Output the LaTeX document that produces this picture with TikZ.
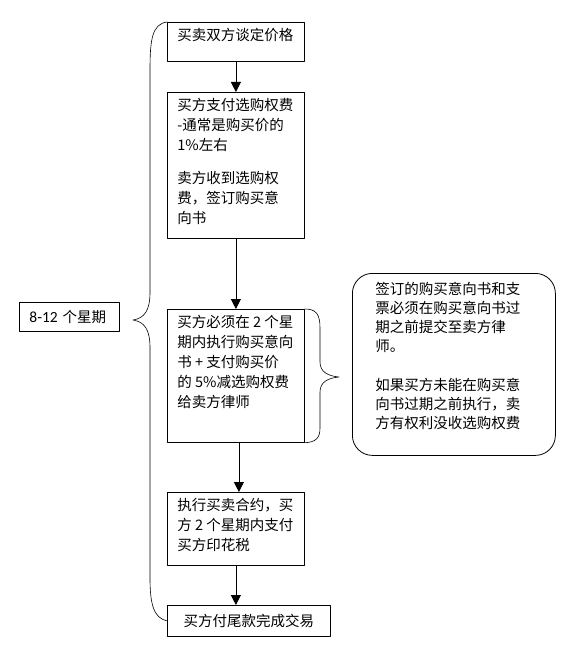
\documentclass[tikz,border=0pt]{standalone}
\usepackage{fontspec}
\setmainfont{Noto Sans CJK SC}
\newfontfamily\latinsans{Carlito}
\usetikzlibrary{arrows.meta}

% hộp chữ canh trên: rộng, cao, nội dung
\newcommand{\khung}[3]{\parbox[c][#2][t]{#1}{\raggedright #3}}

\begin{document}
\begin{tikzpicture}[x=1pt, y=-1pt, line join=round, line cap=round,
    font=\fontsize{14.5}{20}\selectfont,
    box/.style={draw, line width=0.8pt, anchor=north west, inner xsep=10pt, inner ysep=6pt},
    note/.style={draw, line width=0.8pt, anchor=north west, rounded corners=20pt, inner xsep=23pt, inner ysep=9pt},
    flow/.style={-{Triangle[width=10pt,length=10pt]}, line width=0.8pt}]
    \useasboundingbox (0,0) rectangle (560,666);

    % Các bước
    \node[box] (price) at (167,22) {\khung{117pt}{27pt}{买卖双方谈定价格}};
    \node[box] (option) at (167,92) {\khung{117pt}{134pt}{买方支付选购权费\\
        -通常是购买价的\\ 1\%左右\\[13pt]
        卖方收到选购权\\ 费，签订购买意\\ 向书}};
    \node[box] (sign) at (167,309) {\khung{117pt}{121pt}{买方必须在 2 个星\\
        期内执行购买意向\\ 书 + 支付购买价\\ 的 5\%减选购权费\\ 给卖方律师}};
    \node[box] (contract) at (167,492) {\khung{117pt}{61pt}{执行买卖合约，买\\
        方 2 个星期内支付\\ 买方印花税}};
    \node[draw, line width=0.8pt, anchor=north west, minimum width=163pt, minimum height=31pt,
        inner sep=0pt] (finish) at (167,605) {买方付尾款完成交易};

    % Ghi chú bên phải
    \node[note] (remark) at (352,273) {\fontsize{14.5}{19}\selectfont\khung{157pt}{164pt}{签订的购买意向书和支\\
        票必须在购买意向书过\\ 期之前提交至卖方律\\ 师。\\[20pt]
        如果买方未能在购买意\\ 向书过期之前执行，卖\\ 方有权利没收选购权费}};

    % Thời gian
    \node[draw, line width=0.8pt, anchor=north west, text width=80pt, minimum height=29pt,
        inner xsep=10pt, inner ysep=0pt] (weeks) at (19,302) {{\latinsans\fontsize{15.5}{20}\selectfont 8-12} 个星期};

    % Mũi tên
    \draw[flow] (price.south) -- (option.north);
    \draw[flow] (option.south) -- (sign.north);
    \draw[flow] ([xshift=3pt]sign.south) -- ([xshift=3pt]contract.north);
    \draw[flow] (contract.south) -- (contract.south |- finish.north);

    % Dấu ngoặc
    \draw[line width=0.6pt] (price.north west) .. controls (152,24) and (150,40) .. (150,70)
        -- (150,292) .. controls (150,310) and (145,318) .. (133,320)
        .. controls (145,322) and (150,330) .. (150,348)
        -- (150,578) .. controls (150,605) and (154,618) .. (finish.west);
    \draw[line width=0.6pt] (sign.north east) .. controls (316,309) and (320,314) .. (320,328)
        -- (320,362) .. controls (320,372) and (328,376) .. (339,377)
        .. controls (328,378) and (320,382) .. (320,392)
        -- (320,428) .. controls (320,438) and (316,442) .. (sign.south east);
\end{tikzpicture}
\end{document}
